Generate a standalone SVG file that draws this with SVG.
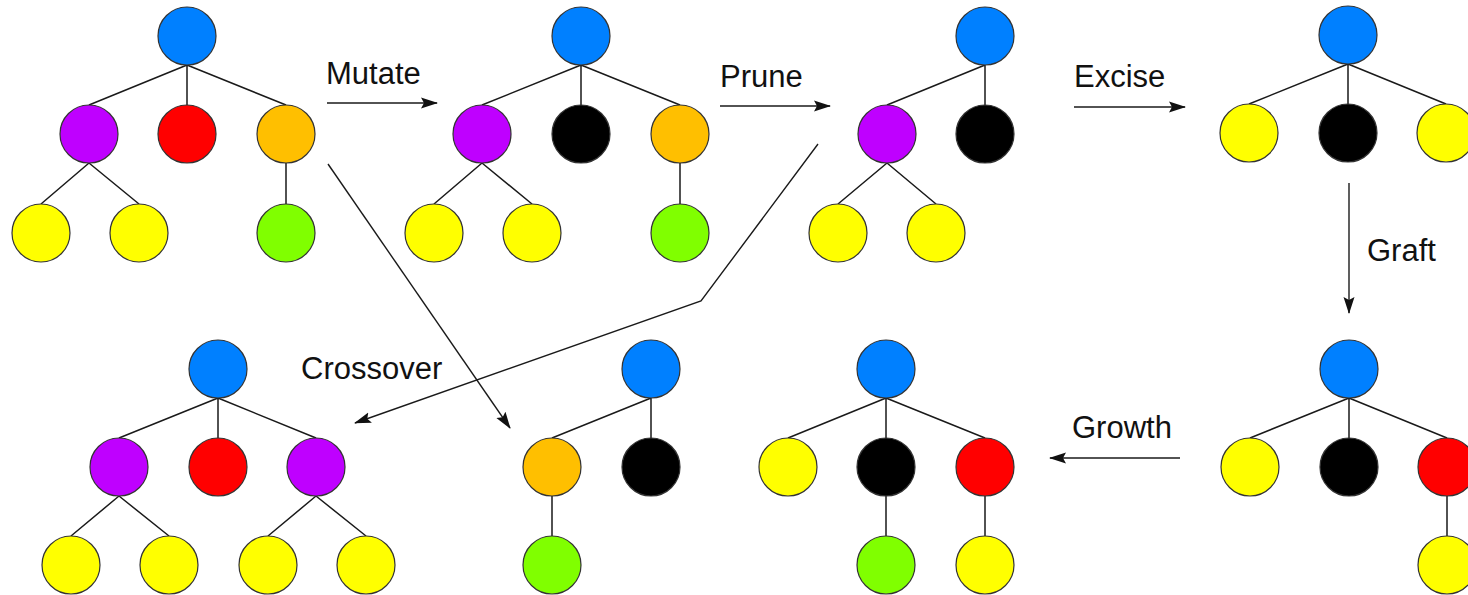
<svg xmlns="http://www.w3.org/2000/svg" width="1468" height="595" viewBox="0 0 1468 595">
<defs>
<style>
.n{stroke:#333;stroke-width:1.2}
.b{fill:#0080ff}.p{fill:#bf00ff}.r{fill:#ff0000}.o{fill:#ffbf00}.y{fill:#ffff00}.g{fill:#80ff00}.k{fill:#000}
.e{stroke:#1a1a1a;stroke-width:1.5;fill:none}
.a{stroke:#1a1a1a;stroke-width:1.4;fill:none;marker-end:url(#ah)}
.t{font-family:"Liberation Sans",Arial,sans-serif;font-size:31px;fill:#111}
</style>
<marker id="ah" viewBox="0 0 17 12" refX="16" refY="6" markerWidth="17" markerHeight="12" markerUnits="userSpaceOnUse" orient="auto">
<path d="M0,0.5 L17,6 L0,11.5 L3,6 Z" fill="#111"/>
</marker>
</defs>
<rect width="1468" height="595" fill="#fff"/>

<g id="edges">
<path class="e" d="M187,65 L89,105 M187,65 L187,105 M187,65 L286,105 M89,163 L41,204 M89,163 L139,204 M286,163 L286,204"/>
<path class="e" d="M581,65 L482,105 M581,65 L581,105 M581,65 L680,105 M482,163 L434,204 M482,163 L532,204 M680,163 L680,204"/>
<path class="e" d="M985,65 L887,105 M985,65 L985,105 M887,163 L838,204 M887,163 L936,204"/>
<path class="e" d="M1348,64 L1249,104 M1348,64 L1348,104 M1348,64 L1446,104"/>
<path class="e" d="M1349,398 L1250,438 M1349,398 L1349,438 M1349,398 L1447,438 M1447,496 L1447,536"/>
<path class="e" d="M886,398 L788,438 M886,398 L886,438 M886,398 L985,438 M886,496 L886,536 M985,496 L985,536"/>
<path class="e" d="M651,398 L552,438 M651,398 L651,438 M552,496 L552,536"/>
<path class="e" d="M218,398 L119,438 M218,398 L218,438 M218,398 L316,438 M119,496 L71,536 M119,496 L169,536 M316,496 L268,536 M316,496 L366,536"/>
</g>

<g id="connectors">
<line class="a" x1="327" y1="103" x2="437" y2="103"/>
<line class="a" x1="720" y1="106" x2="830" y2="106"/>
<line class="a" x1="1074" y1="107" x2="1185" y2="107"/>
<line class="a" x1="1349" y1="183" x2="1349" y2="313"/>
<line class="a" x1="1180" y1="458" x2="1050" y2="458"/>
<line class="a" x1="328" y1="164" x2="510" y2="428"/>
<polyline class="a" points="818,144 701,301 355,423"/>
</g>

<g id="labels">
<text class="t" x="326" y="84">Mutate</text>
<text class="t" x="720" y="87">Prune</text>
<text class="t" x="1074" y="87">Excise</text>
<text class="t" x="1367" y="261">Graft</text>
<text class="t" x="1072" y="438">Growth</text>
<text class="t" x="301" y="379">Crossover</text>
</g>

<g id="tree1">
<circle class="n b" cx="187" cy="36" r="29"/>
<circle class="n p" cx="89" cy="134" r="29"/>
<circle class="n r" cx="187" cy="134" r="29"/>
<circle class="n o" cx="286" cy="134" r="29"/>
<circle class="n y" cx="41" cy="233" r="29"/>
<circle class="n y" cx="139" cy="233" r="29"/>
<circle class="n g" cx="286" cy="233" r="29"/>
</g>
<g id="tree2">
<circle class="n b" cx="581" cy="36" r="29"/>
<circle class="n p" cx="482" cy="134" r="29"/>
<circle class="n k" cx="581" cy="134" r="29"/>
<circle class="n o" cx="680" cy="134" r="29"/>
<circle class="n y" cx="434" cy="233" r="29"/>
<circle class="n y" cx="532" cy="233" r="29"/>
<circle class="n g" cx="680" cy="233" r="29"/>
</g>
<g id="tree3">
<circle class="n b" cx="985" cy="36" r="29"/>
<circle class="n p" cx="887" cy="134" r="29"/>
<circle class="n k" cx="985" cy="134" r="29"/>
<circle class="n y" cx="838" cy="233" r="29"/>
<circle class="n y" cx="936" cy="233" r="29"/>
</g>
<g id="tree4">
<circle class="n b" cx="1348" cy="35" r="29"/>
<circle class="n y" cx="1249" cy="133" r="29"/>
<circle class="n k" cx="1348" cy="133" r="29"/>
<circle class="n y" cx="1446" cy="133" r="29"/>
</g>
<g id="tree5">
<circle class="n b" cx="1349" cy="369" r="29"/>
<circle class="n y" cx="1250" cy="467" r="29"/>
<circle class="n k" cx="1349" cy="467" r="29"/>
<circle class="n r" cx="1447" cy="467" r="29"/>
<circle class="n y" cx="1447" cy="565" r="29"/>
</g>
<g id="tree6">
<circle class="n b" cx="886" cy="369" r="29"/>
<circle class="n y" cx="788" cy="467" r="29"/>
<circle class="n k" cx="886" cy="467" r="29"/>
<circle class="n r" cx="985" cy="467" r="29"/>
<circle class="n g" cx="886" cy="565" r="29"/>
<circle class="n y" cx="985" cy="565" r="29"/>
</g>
<g id="tree7">
<circle class="n b" cx="651" cy="369" r="29"/>
<circle class="n o" cx="552" cy="467" r="29"/>
<circle class="n k" cx="651" cy="467" r="29"/>
<circle class="n g" cx="552" cy="565" r="29"/>
</g>
<g id="tree8">
<circle class="n b" cx="218" cy="369" r="29"/>
<circle class="n p" cx="119" cy="467" r="29"/>
<circle class="n r" cx="218" cy="467" r="29"/>
<circle class="n p" cx="316" cy="467" r="29"/>
<circle class="n y" cx="71" cy="565" r="29"/>
<circle class="n y" cx="169" cy="565" r="29"/>
<circle class="n y" cx="268" cy="565" r="29"/>
<circle class="n y" cx="366" cy="565" r="29"/>
</g>
</svg>
